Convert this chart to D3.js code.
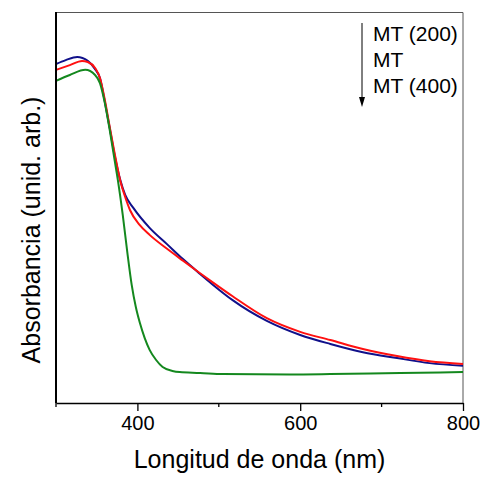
<!DOCTYPE html>
<html>
<head>
<meta charset="utf-8">
<script src="https://cdn.jsdelivr.net/npm/d3@7"></script>
<style>
  body { margin: 0; background: #fff; }
  svg { display: block; font-family: Arial, "Liberation Sans", sans-serif; }
</style>
</head>
<body>
<svg id="chart" width="488" height="478"></svg>
<script>
// wavelength (nm) / absorbance (arb. units)
const seriesNames = ["MT (200)", "MT", "MT (400)"];
const seriesColors = ["#10108a", "#ff1010", "#14881e"];

const mt200Wave = [300, 312, 326, 339, 348, 354, 360, 366, 372, 379, 385, 395, 415, 436, 456, 477, 493, 517, 559, 600, 637, 677, 719, 759, 800];
const mt200Abs = [0.867, 0.877, 0.885, 0.875, 0.854, 0.831, 0.770, 0.703, 0.634, 0.570, 0.532, 0.499, 0.448, 0.407, 0.368, 0.330, 0.302, 0.263, 0.210, 0.174, 0.151, 0.130, 0.115, 0.102, 0.095];

const mtWave = [300, 317, 332, 339, 348, 354, 360, 366, 372, 379, 385, 391, 403, 415, 436, 456, 477, 493, 517, 559, 600, 637, 677, 719, 759, 800];
const mtAbs = [0.852, 0.864, 0.875, 0.872, 0.857, 0.831, 0.775, 0.706, 0.639, 0.568, 0.527, 0.493, 0.455, 0.430, 0.395, 0.364, 0.332, 0.308, 0.273, 0.217, 0.182, 0.161, 0.138, 0.120, 0.107, 0.100];

const mt400Wave = [300, 317, 336, 348, 354, 360, 366, 372, 376, 382, 388, 393, 398, 403, 409, 415, 423, 431, 443, 452, 477, 505, 587, 637, 723, 800];
const mt400Abs = [0.824, 0.839, 0.852, 0.839, 0.818, 0.767, 0.698, 0.621, 0.570, 0.481, 0.379, 0.302, 0.246, 0.205, 0.166, 0.136, 0.110, 0.092, 0.082, 0.079, 0.077, 0.074, 0.073, 0.074, 0.077, 0.079];

const majorTicks = [400, 600, 800];
const minorTicks = [300, 500, 700];

const allSeries = [
  { name: seriesNames[0], wave: mt200Wave, abs: mt200Abs, color: seriesColors[0] },
  { name: seriesNames[1], wave: mtWave, abs: mtAbs, color: seriesColors[1] },
  { name: seriesNames[2], wave: mt400Wave, abs: mt400Abs, color: seriesColors[2] }
];

function drawChart() {
  const svg = d3.select("#chart");
  const margin = { top: 12, right: 25, bottom: 75, left: 56 };
  const width = +svg.attr("width");
  const height = +svg.attr("height");
  const innerWidth = width - margin.left - margin.right;
  const innerHeight = height - margin.top - margin.bottom;

  svg.append("rect").attr("width", width).attr("height", height).attr("fill", "#fff");

  const x = d3.scaleLinear().domain([300, 800]).range([0, innerWidth]);
  const y = d3.scaleLinear().domain([0, 1]).range([innerHeight, 0]);

  const g = svg.append("g").attr("transform", `translate(${margin.left},${margin.top})`);

  // top / right frame
  g.append("path")
    .attr("d", `M0,0.5H${innerWidth}V${innerHeight}`)
    .attr("fill", "none")
    .attr("stroke", "#555")
    .attr("stroke-width", 1);

  // curves
  const line = d3.line()
    .x(d => x(d[0]))
    .y(d => y(d[1]))
    .curve(d3.curveMonotoneX);

  allSeries.forEach(s => {
    g.append("path")
      .datum(s.wave.map((w, i) => [w, s.abs[i]]))
      .attr("fill", "none")
      .attr("stroke", s.color)
      .attr("stroke-width", 2)
      .attr("d", line);
  });

  // x axis
  const xAxis = g.append("g").attr("transform", `translate(0,${innerHeight})`);
  xAxis.call(d3.axisBottom(x).tickValues(majorTicks).tickSize(8).tickPadding(5).tickSizeOuter(0));
  xAxis.selectAll(".tick line").attr("stroke", "#000").attr("stroke-width", 1.3);
  xAxis.select(".domain").attr("stroke", "#000").attr("stroke-width", 1.6);
  xAxis.selectAll(".tick text")
    .attr("font-size", "20px")
    .attr("font-family", "Arial, 'Liberation Sans', sans-serif")
    .attr("fill", "#000");
  xAxis.selectAll(".minor")
    .data(minorTicks)
    .enter().append("line")
    .attr("x1", d => x(d)).attr("x2", d => x(d))
    .attr("y1", 0).attr("y2", 4)
    .attr("stroke", "#000")
    .attr("stroke-width", 1.3);

  // y axis line only, no ticks
  g.append("line")
    .attr("x1", 0).attr("x2", 0)
    .attr("y1", 0).attr("y2", innerHeight)
    .attr("stroke", "#000")
    .attr("stroke-width", 2);

  // axis titles
  svg.append("text")
    .attr("x", margin.left + innerWidth / 2)
    .attr("y", 468)
    .attr("text-anchor", "middle")
    .attr("font-size", "25px")
    .attr("fill", "#000")
    .text("Longitud de onda (nm)");

  svg.append("text")
    .attr("transform", "rotate(-90)")
    .attr("x", -230)
    .attr("y", 40)
    .attr("text-anchor", "middle")
    .attr("font-size", "25px")
    .attr("fill", "#000")
    .text("Absorbancia (unid. arb.)");

  // legend: names with a downward arrow
  const legend = svg.append("g");
  legend.append("line")
    .attr("x1", 362).attr("x2", 362)
    .attr("y1", 23).attr("y2", 98)
    .attr("stroke", "#000")
    .attr("stroke-width", 1);
  legend.append("path")
    .attr("d", "M359,97L365,97L362,107Z")
    .attr("fill", "#000");
  seriesNames.forEach((name, i) => {
    legend.append("text")
      .attr("x", 373)
      .attr("y", 41 + i * 26)
      .attr("font-size", "21px")
      .attr("fill", "#000")
      .text(name);
  });
}

drawChart();
</script>
</body>
</html>
